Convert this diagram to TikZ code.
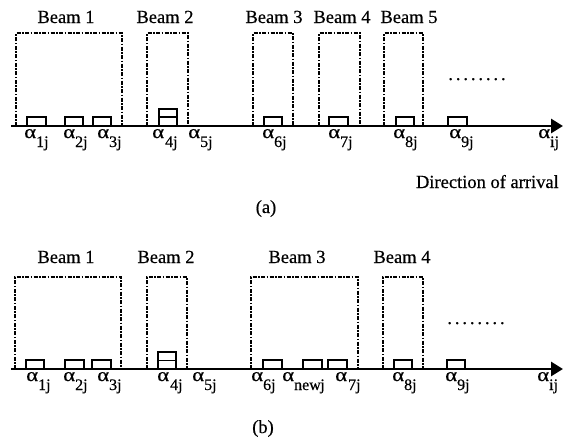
\documentclass[tikz,border=0pt]{standalone}
\usepackage{fontspec}
\setmainfont{Liberation Serif}[FakeBold=0.5]
\usetikzlibrary{arrows.meta}
\tikzset{
  beambox/.style={line width=1.5pt, dash pattern=on 4pt off 1.5pt on 1.5pt off 1.5pt},
  sq/.style={line width=1.6pt},
  axisline/.style={line width=2.8pt, -{Triangle[length=12pt,width=14pt]}},
  lbl/.style={font=\fontsize{18.5}{20}\selectfont, inner sep=0pt, anchor=base},
  alph/.style={font=\fontsize{19}{20}\selectfont, inner sep=0pt, anchor=base west},
}
\newcommand{\asub}[1]{\scalebox{1.2}[1]{α}\raisebox{-9pt}{\fontsize{16}{16}\selectfont #1}}
\newcommand{\dotrow}{.\hspace{2.9pt}.\hspace{2.9pt}.\hspace{2.9pt}.\hspace{2.9pt}.\hspace{2.9pt}.\hspace{2.9pt}.\hspace{2.9pt}.}
\begin{document}
\begin{tikzpicture}[x=1pt,y=-1pt]
\useasboundingbox (0,0) rectangle (563,440);
% ---------------- (a) ----------------
\coordinate (aS) at (11,126);
\coordinate (aE) at (563,126);
% beams
\draw[beambox] (16,126) |- (122,33) -- (122,126);
\draw[beambox] (147,126) |- (188,33) -- (188,126);
\draw[beambox] (253,126) |- (293,33) -- (293,126);
\draw[beambox] (319,126) |- (360,33) -- (360,126);
\draw[beambox] (384,126) |- (423,33) -- (423,126);
% squares
\draw[sq] (27,126) rectangle (46,117);
\draw[sq] (65,126) rectangle (83,117);
\draw[sq] (93,126) rectangle (111,117);
\draw[sq] (159,126) rectangle (177,117);
\draw[sq] (159,117) rectangle (177,109);
\draw[sq] (264,126) rectangle (282,117);
\draw[sq] (329,126) rectangle (348,117);
\draw[sq] (396,126) rectangle (414,117);
\draw[sq] (448,126) rectangle (467,117);
\draw[axisline] (aS) -- (aE);
% beam labels
\node[lbl] (aB1) at (66,23) {Beam 1};
\node[lbl] (aB2) at (165,23) {Beam 2};
\node[lbl] (aB3) at (274,23) {Beam 3};
\node[lbl] (aB4) at (342,23) {Beam 4};
\node[lbl] (aB5) at (409,23) {Beam 5};
\node[lbl] (aDots) at (477,80) {\dotrow};
% alpha labels
\node[alph] (aa1) at (24,138) {\asub{1j}};
\node[alph] (aa2) at (63,138) {\asub{2j}};
\node[alph] (aa3) at (97,138) {\asub{3j}};
\node[alph] (aa4) at (152,138) {\asub{\hspace{1pt}4j}};
\node[alph] (aa5) at (188,138) {\asub{5j}};
\node[alph] (aa6) at (262,138) {\asub{6j}};
\node[alph] (aa7) at (328,138) {\asub{7j}};
\node[alph] (aa8) at (393,138) {\asub{8j}};
\node[alph] (aa9) at (449,138) {\asub{9j}};
\node[alph] (aaij) at (538,138) {\asub{ij}};
\node[lbl, anchor=base east] (aDir) at (559,188) {Direction of arrival};
\node[lbl] (aCap) at (266,213) {(a)};
% ---------------- (b) ----------------
\coordinate (bS) at (11,369);
\coordinate (bE) at (563,369);
\draw[beambox] (15,369) |- (121,277) -- (121,369);
\draw[beambox] (147,369) |- (187,277) -- (187,369);
\draw[beambox] (251,369) |- (358,277) -- (358,369);
\draw[beambox] (383,369) |- (423,277) -- (423,369);
\draw[sq] (26,369) rectangle (44,360);
\draw[sq] (65,369) rectangle (84,360);
\draw[sq] (92,369) rectangle (111,360);
\draw[sq] (158,369) rectangle (176,360.5);
\draw[sq] (158,360.5) rectangle (176,352);
\draw[sq] (263,369) rectangle (282,360);
\draw[sq] (303,369) rectangle (322,360);
\draw[sq] (328,369) rectangle (347,360);
\draw[sq] (394,369) rectangle (412,360);
\draw[sq] (447,369) rectangle (465,360);
\draw[axisline] (bS) -- (bE);
\node[lbl] (bB1) at (66,263) {Beam 1};
\node[lbl] (bB2) at (166,263) {Beam 2};
\node[lbl] (bB3) at (297,263) {Beam 3};
\node[lbl] (bB4) at (402,263) {Beam 4};
\node[lbl] (bDots) at (476,324) {\dotrow};
\node[alph] (ba1) at (26,381) {\asub{1j}};
\node[alph] (ba2) at (63,381) {\asub{2j}};
\node[alph] (ba3) at (97,381) {\asub{3j}};
\node[alph] (ba4) at (157,381) {\asub{\hspace{1pt}4j}};
\node[alph] (ba5) at (192,381) {\asub{5j}};
\node[alph] (ba6) at (251,381) {\asub{6j}};
\node[alph] (banew) at (282,381) {\asub{new\kern-0.5pt j}};
\node[alph] (ba7) at (335,381) {\asub{\hspace{1pt}7j}};
\node[alph] (ba8) at (392,381) {\asub{8j}};
\node[alph] (ba9) at (445,381) {\asub{9j}};
\node[alph] (baij) at (537,381) {\asub{ij}};
\node[lbl] (bCap) at (263,433) {(b)};
\end{tikzpicture}
\end{document}
